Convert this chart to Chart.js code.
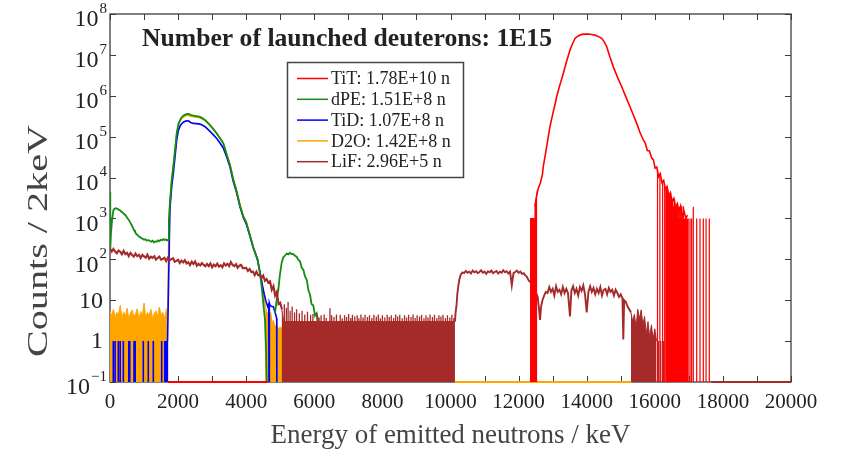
<!DOCTYPE html>
<html><head><meta charset="utf-8">
<script src="https://cdn.jsdelivr.net/npm/chart.js@4/dist/chart.umd.min.js"></script>
<style>html,body{margin:0;padding:0;background:#fff;}#wrap{width:841px;height:452px;position:relative;}</style>
</head><body><div id="wrap"><canvas id="c" width="841" height="452"></canvas></div>
<script>
// ================= DATA =================
const chartTitle = 'Number of launched deuterons: 1E15';
const xAxisTitle = 'Energy of emitted neutrons / keV';
const yAxisTitle = 'Counts / 2keV';
const xTickLabels = ['0','2000','4000','6000','8000','10000','12000','14000','16000','18000','20000'];
const yTickExponents = [8,7,6,5,4,3,2,1,0,-1];
const seriesLabels = ['TiT: 1.78E+10 n','dPE: 1.51E+8 n','TiD: 1.07E+8 n','D2O: 1.42E+8 n','LiF: 2.96E+5 n'];

// --- TiT (red) ---
const titE = [12480,12530,12580,12640,12700,12725,12800,12860,12921,13000,13060,13118,13200,13312,13400,13509,13580,13656,13750,13853,13950,14047,14150,14244,14350,14441,14520,14588,14680,14782,14900,15029,15150,15272,15370,15469,15560,15663,15720,15780,15840,15910,15960,16010,16060,16110,16160,16210,16260,16310,16360,16410,16460,16510,16560,16610,16660,16710,16760,16810,16860,16910,16960];
const titCounts = [2000,3600,5500,7500,12000,18400,43000,87000,175000,350000,570000,946000,1.7e6,3.52e6,6.5e6,1.31e7,1.85e7,2.53e7,2.9e7,3.17e7,3.22e7,3.24e7,3.15e7,3.04e7,2.8e7,2.53e7,2.05e7,1.58e7,9e6,5.1e6,2.9e6,1.66e6,9.4e5,5.38e5,3.4e5,2.11e5,1.3e5,8.3e4,7.0e4,4.6e4,4.5e4,3.0e4,2.7e4,1.7e4,1.8e4,1.05e4,1.25e4,7500,8500,5200,6000,3600,4300,2600,3100,1900,2300,1400,2000,1100,1500,1000,1200];
const titFillE = [12335,12475,12480,12530,12550];
const titFillTop = [1000,1000,2000,3600,5000];
const titSpikeE = [16080,16150,16230,16290,
  16330,16340,16350,16360,16370,16380,16390,16410,16420,16430,16440,16450,16460,16480,16490,16500,16510,16520,16530,16540,16550,16570,16580,16590,16600,16610,16620,16630,16640,16660,16670,16680,16690,16700,16710,16730,16740,16750,16760,16770,16780,16790,16810,16820,16830,16840,16850,16870,16880,16890,16900,16910,16920,16940,16950,16960,16970,16980,
  17034,17082,17131,17230,17328,17425,17505,17601];
const titSpikeTop = [15000,12000,8000,6000,
  5000,3000,5500,4000,3000,5000,2000,4000,3000,1000,3600,2000,4000,1000,3000,2000,2600,1000,3000,2000,1000,2000,3000,1000,2000,1000,1900,1000,2000,1000,2200,1000,2000,1000,1000,1900,1000,2000,1000,1000,1000,2000,1000,1000,1000,2000,1000,1000,1000,1000,1000,1000,1000,1000,1000,1000,1000,1000,
  1000,1000,1930,1000,1000,1000,1000,1000];
const titZeroE = [1700,4650];

// --- dPE (green) ---
const dpeE = [0,8,30,60,97,130,165,197,230,265,300,344,380,420,455,490,525,560,600,637,670,705,734,770,805,840,881,920,960,1000,1040,1080,1120,1175,1210,1250,1290,1330,1371,1410,1450,1490,1530,1565,1600,1640,1680,1712,
  1730,1760,1790,1812,1859,1909,1959,2006,2056,2100,2153,2220,2300,2370,2446,2540,2643,2720,2790,2860,2937,3030,3134,3230,3327,3420,3524,3620,3721,3820,3915,4000,4110,4210,4330,4380,4420,4455,4502,4552,4581,4600,
  4700,
  4846,4900,4944,4990,5043,5090,5140,5190,5240,5286,5330,5380,5433,5480,5530,5580,5630,5680,5727,5780,5830,5873,5920,5970,6020,6070,6120];
const dpeCounts = [4500,180,450,900,1550,1700,1780,1740,1700,1620,1560,1440,1380,1260,1200,1080,980,900,780,690,600,520,470,420,395,365,350,330,318,300,310,285,296,280,270,285,262,275,268,290,278,300,292,312,298,305,290,302,
  900,2500,5000,8700,18400,47000,120000,200000,255000,295000,325000,350000,360000,340000,328000,318000,305000,280000,255000,225000,192000,155000,120000,92000,68600,38000,20000,9000,4500,2000,1100,800,380,190,100,62,36,21,8.5,3.3,0.6,0.1,
  null,
  4.9,11,18,42,84,112,124,138,132,145,134,136,122,116,98,90,63,55,38,31,17,14,8,7.5,4.2,4.8,2.9];

// --- TiD (blue) ---
const tidE = [1690,1720,1760,1790,1812,1859,1909,1959,2006,2056,2100,2153,2220,2300,2370,2446,2540,2643,2720,2790,2860,2937,3030,3134,3230,3327,3420,3524,3620,3721,3820,3915,4000,4110,4210,4330,4380,4430,4480,4530,4580,4630,4660,4670,4680,4700,4750,4796,4850,4896,4900];
const tidCounts = [1,25,1700,3500,6000,12500,32000,82000,140000,180000,205000,225000,240000,245000,222000,211000,208000,203000,190000,175000,155000,135000,112000,90000,70000,53000,33000,18000,8000,4200,1900,1050,740,370,190,100,60,38,22,14,9.5,7,8,0.1,8.5,7.5,7,6.9,5,3.6,0.1];
const tidSpikeE = [97,150,244,300,391,552,580,705,740,978,1125,1272,1518,1610,1625,1640,1655,1670,1685];
const tidSpikeTop = [1,1,1,1,1,1,1,1,1,1,1,1,1,1,1,1,1,1,1];

// --- D2O (orange) ---
const d2oE = [1700,1730,1760,1790,1812,1859,1909,1959,2006,2056,2100,2153,2220,2300,2370,2446,2540,2643,2720,2790,2860,2937,3030,3134,3230,3327,3420,3524,3620,3721,3820,3915,4000,4110,4210,4330,4380,4430,4480,4520,4560];
const d2oCounts = [7,700,2300,4700,8200,17500,44000,112000,186000,238000,275000,302000,326000,335000,318000,308000,300000,290000,270000,248000,220000,190000,155000,121000,93000,70000,39000,20500,9300,4700,2100,1150,830,395,200,105,62,36,21,12,7];
const d2oLeftFillE = [0,50,100,150,200,250,300,350,400,450,500,550,600,650,700,750,800,850,900,950,1000,1050,1100,1150,1200,1250,1300,1350,1400,1450,1500,1550,1600,1650,1700];
const d2oLeftFillTop = [5.5,4.2,6.0,3.8,5.0,4.4,7.5,3.6,5.2,4.0,6.4,3.5,4.8,5.8,3.9,4.6,6.2,3.4,5.3,4.1,8.5,3.7,5.0,4.3,6.0,3.5,4.7,5.5,3.9,6.8,4.2,5.1,3.6,5.6,7];
const d2oRightFillE = [4560,4600,4640,4680,4720,4760,4800,4850,4900,4950,5000,5072];
const d2oRightFillTop = [7,5.5,4.5,3.5,5,2.8,3.2,2.2,2.5,2.0,2.2,2.0];
const d2oZeroE = [10130,15320];

// --- LiF (brown) ---
const lifE1 = [0,50,100,150,200,250,300,350,400,450,500,550,600,650,700,750,800,850,900,950,1000,1050,1100,1150,1200,1250,1300,1350,1400,1450,1500,1550,1600,1650,1700,1750,1800,1850,1900,1950,2000,2050,2100,2150,2200,2250,2300,2350,2400,2450,2500,2550,2600,2650,2700,2750,2800,2850,2900,2950,3000,3050,3100,3150,3200,3250,3300,3350,3400,3450,3500,3550,3600,3650,3700,3750,3800,3850,3900,3950,4000,4050,4100,4150,4200,4250,4300,4350,4400,4450,4500,4550,4600,4650,4700,4750,4800,4850,4900,4950,5000,5050];
const lifCounts1 = [180,155,179,155,141,165,153,134,161,134,144,119,144,128,117,139,119,129,108,128,118,110,130,103,116,108,119,99,108,117,98,102,109,90,109,94,101,107,87,92,98,81,93,84,95,79,85,72,87,77,89,70,78,71,81,73,68,77,68,79,64,74,68,78,66,72,64,79,71,78,68,86,73,68,76,62,70,73,61,61,62,52,58,49,50,41,50,41,41,35,40,30,33,27,29,18,22,13,16,8,8.6,6];
const lifE2 = [10130,10150,10180,10200,10230,10260,10300,10350,10400,10450,10500,10550,10600,10650,10700,10750,10800,10850,10900,10950,11000,11050,11100,11150,11200,11250,11300,11350,11400,11450,11500,11550,11600,11650,11700,11750,11800,11850,11900,11950,12000,12050,12100,12150,12200,12238,12300,12385,12450,12500,12560,12600,12630,12660,12700,12750,12800,12850,12900,12950,13000,13050,13100,13150,13200,13250,13300,13350,13400,13450,13510,13550,13600,13650,13700,13750,13800,13850,13900,13950,14000,14050,14100,14150,14200,14250,14300,14350,14400,14450,14500,14550,14600,14650,14700,14750,14800,14850,14900,14950,15000,15050,15075,15100,15150,15200,15250,15300];
const lifCounts2 = [3,5,8,14,22,32,42,48,46,52,47,50,45,53,48,51,46,49,54,47,50,44,51,48,53,46,49,52,45,50,47,54,48,51,45,50,23,46,49,53,47,50,44,46,40,38,30,26,22,16,12,6,3.3,7,10,13,16,15,21,16,19,13,22,16,18,14,21,15,19,15,4,17,22,15,19,13,21,17,23,14,5,16,22,16,20,14,19,15,21,13,18,19,14,20,16,18,13,18,15,12,14,11,1.1,10,9,7,6,5];
const lifFill1E = [5040,5080,5100,10130];
const lifFill1Top = [6.5,4,3,3];
const lifFill2E = [15300,15350,15400,15450,15500,15550,15600,15650,15700,15750,15800,15850,15900,15950,16000,16050];
const lifFill2Top = [5,3,4.5,2.2,6,3.5,5.8,2.5,4,1.5,3,1.2,2.5,1.1,2,1.0];
const lifSpikeE = [5120,5180,5230,5290,5350,5420,5480,5560,5640,5720,5800,5890,5960,6080,6140,6200,6290,6350,6460,6510,6580,6650,6760,6820,6890,6950,7010,7070,7120,7190,7260,7310,7370,7430,7490,7560,7620,7690,7750,7820,7880,7940,8000,8070,8140,8200,8260,8330,8390,8450,8510,8580,8650,8710,8770,8840,8900,8960,9020,9090,9150,9220,9280,9340,9400,9470,9530,9600,9660,9720,9780,9850,9910,9980,10040,10100,
  16103,16174,16250,16350,16447,16535];
const lifSpikeTop = [8,6.5,9,5.5,7,5,6,4.8,5.5,4.5,5.2,4.4,4.6,4.4,3.8,4.3,4.5,3.7,6.4,4.3,3.9,4.5,4.4,3.6,4.3,3.9,4.6,3.7,4.4,4.0,4.3,3.6,4.5,3.8,4.4,3.9,4.3,3.7,4.4,4.0,4.5,3.6,4.3,3.8,4.4,3.9,4.3,3.7,4.5,4.0,4.4,3.6,4.3,3.8,4.4,3.9,4.5,3.7,4.3,4.0,4.4,3.6,4.3,3.8,4.5,3.9,4.4,3.7,4.3,4.0,4.4,3.6,4.3,3.8,4.4,3.7,
  1,1,1,1,1,1];
const lifZeroE = [17650,20000];

// ================= CHART =================
const COL = {TiT:'#ff0000', dPE:'#128c12', TiD:'#0000ff', D2O:'#ffa500', LiF:'#a52a2a'};
const legendColors = [COL.TiT, COL.dPE, COL.TiD, COL.D2O, COL.LiF];
const YMIN = 0.1;

function pts(E, V){ return E.map((e,i)=>({x:e, y:V[i]})); }
function flat(E){ return E.map(e=>({x:e, y:YMIN})); }
function spikes(E, T){ const d=[]; E.forEach((e,i)=>{ d.push({x:e,y:YMIN},{x:e,y:T[i]},{x:e,y:null}); }); return d; }
function ds(data, color, w, extra){
  return Object.assign({data, borderColor:color, backgroundColor:color, borderWidth:w, pointRadius:0, pointHoverRadius:0, tension:0, fill:false, spanGaps:false}, extra||{});
}
const fillOpt = {fill:'start'};
const zeroOpt = {clip:{left:0,right:0,top:0,bottom:3}};

const datasets = [
  ds(pts(titE,titCounts), COL.TiT, 1.6),
  ds(pts(titFillE,titFillTop), COL.TiT, 1, fillOpt),
  ds(spikes(titSpikeE,titSpikeTop), COL.TiT, 1.2),
  ds(flat(titZeroE), COL.TiT, 2, zeroOpt),
  ds(pts(lifE1,lifCounts1), COL.LiF, 2.1),
  ds(pts(lifE2,lifCounts2), COL.LiF, 1.9),
  ds(pts(lifFill1E,lifFill1Top), COL.LiF, 1, fillOpt),
  ds(pts(lifFill2E,lifFill2Top), COL.LiF, 1, fillOpt),
  ds(spikes(lifSpikeE,lifSpikeTop), COL.LiF, 1.3),
  ds(flat(lifZeroE), COL.LiF, 2, zeroOpt),
  ds(pts(dpeE,dpeCounts), COL.dPE, 1.8),
  ds(pts(tidE,tidCounts), COL.TiD, 1.6),
  ds(spikes(tidSpikeE,tidSpikeTop), COL.TiD, 1.6),
  ds(pts(d2oE,d2oCounts), COL.D2O, 1.6),
  ds(pts(d2oLeftFillE,d2oLeftFillTop), COL.D2O, 1, fillOpt),
  ds(pts(d2oRightFillE,d2oRightFillTop), COL.D2O, 1, fillOpt),
  ds(flat(d2oZeroE), COL.D2O, 2, zeroOpt)
];

const SERIF = '"Liberation Serif", "DejaVu Serif", serif';
const AXC = '#3c3c3c';

const framePlugin = {
  id:'frame',
  beforeDatasetsDraw(chart){
    const {ctx, chartArea:a, scales:{x,y}} = chart;
    ctx.save();
    ctx.strokeStyle = AXC; ctx.lineWidth = 1.3;
    ctx.strokeRect(a.left, a.top, a.right-a.left, a.bottom-a.top);
    ctx.lineWidth = 1;
    const tl = 6;
    for (let v=0; v<=20000; v+=1000){
      const px = Math.round(x.getPixelForValue(v))+0.5;
      ctx.beginPath(); ctx.moveTo(px,a.bottom); ctx.lineTo(px,a.bottom-tl); ctx.stroke();
      ctx.beginPath(); ctx.moveTo(px,a.top); ctx.lineTo(px,a.top+tl); ctx.stroke();
    }
    yTickExponents.forEach(e=>{
      const py = Math.round(y.getPixelForValue(Math.pow(10,e)))+0.5;
      ctx.beginPath(); ctx.moveTo(a.left,py); ctx.lineTo(a.left+tl,py); ctx.stroke();
      ctx.beginPath(); ctx.moveTo(a.right,py); ctx.lineTo(a.right-tl,py); ctx.stroke();
    });
    ctx.restore();
  },
  afterDraw(chart){
    const {ctx, chartArea:a, scales:{y}} = chart;
    ctx.save();
    // y tick labels with superscripts
    ctx.fillStyle = '#222'; ctx.textBaseline = 'middle';
    const rightEdge = 107;
    yTickExponents.forEach(e=>{
      const py = y.getPixelForValue(Math.pow(10,e));
      if (e===1 || e===0){
        ctx.font = '24px '+SERIF; ctx.textAlign='right';
        ctx.fillText(e===1?'10':'1', rightEdge-4, py+1);
      } else {
        ctx.font = '15px '+SERIF;
        const sup = String(e).replace('-','\u2212');
        const sw = ctx.measureText(sup).width;
        ctx.textAlign='left';
        ctx.fillText(sup, rightEdge - sw, py-5);
        ctx.font = '24px '+SERIF; ctx.textAlign='right';
        ctx.fillText('10', rightEdge - sw - 1, py+6);
      }
    });
    // y axis title (stretched along its length to match the reference)
    ctx.save();
    ctx.font = '29px '+SERIF; ctx.fillStyle = '#444'; ctx.textAlign='center'; ctx.textBaseline='middle';
    const yw = ctx.measureText(yAxisTitle).width;
    ctx.translate(39, 241); ctx.rotate(-Math.PI/2); ctx.scale(232/yw, 1);
    ctx.fillText(yAxisTitle, 0, 0);
    ctx.restore();
    // chart title
    ctx.font = 'bold 25px '+SERIF; ctx.fillStyle='#222'; ctx.textAlign='left'; ctx.textBaseline='alphabetic';
    const tw = ctx.measureText(chartTitle).width;
    ctx.save(); ctx.translate(142, 46); ctx.scale(410/tw, 1); ctx.fillText(chartTitle, 0, 0); ctx.restore();
    // legend
    const bx=287.5, by=62.5, bw=176, bh=115;
    ctx.fillStyle='#fff'; ctx.fillRect(bx,by,bw,bh);
    ctx.strokeStyle='#444'; ctx.lineWidth=1.5; ctx.strokeRect(bx,by,bw,bh);
    ctx.font = '18px '+SERIF; ctx.textBaseline='middle'; ctx.textAlign='left';
    seriesLabels.forEach((lab,i)=>{
      const ry = 78.5 + i*20.8;
      ctx.strokeStyle = legendColors[i]; ctx.lineWidth=1.5;
      ctx.beginPath(); ctx.moveTo(297, ry); ctx.lineTo(328, ry); ctx.stroke();
      ctx.fillStyle='#222'; ctx.fillText(lab, 331, ry+1);
    });
    ctx.restore();
  }
};

new Chart(document.getElementById('c'), {
  type:'line',
  data:{datasets},
  options:{
    responsive:false, animation:false, devicePixelRatio:1, events:[],
    layout:{padding:{top:14,right:50,left:0,bottom:0}},
    plugins:{legend:{display:false}, tooltip:{enabled:false}, title:{display:false}},
    scales:{
      x:{type:'linear', min:0, max:20000,
         ticks:{stepSize:2000, padding:8, color:'#222', font:{family:SERIF, size:21}, maxRotation:0, autoSkip:false,
                callback:(v)=>{ const i = Math.round(v/2000); return (v%2000===0) ? xTickLabels[i] : ''; }},
         grid:{display:false, drawTicks:false}, border:{display:false},
         title:{display:true, text:xAxisTitle, color:'#444', font:{family:SERIF, size:27}, padding:{top:0,bottom:0}},
         afterFit:(s)=>{ s.height = 70; }},
      y:{type:'logarithmic', min:YMIN, max:1e8,
         ticks:{display:false}, grid:{display:false, drawTicks:false}, border:{display:false},
         afterFit:(s)=>{ s.width = 110; }}
    }
  },
  plugins:[framePlugin]
});
</script>
</body></html>
